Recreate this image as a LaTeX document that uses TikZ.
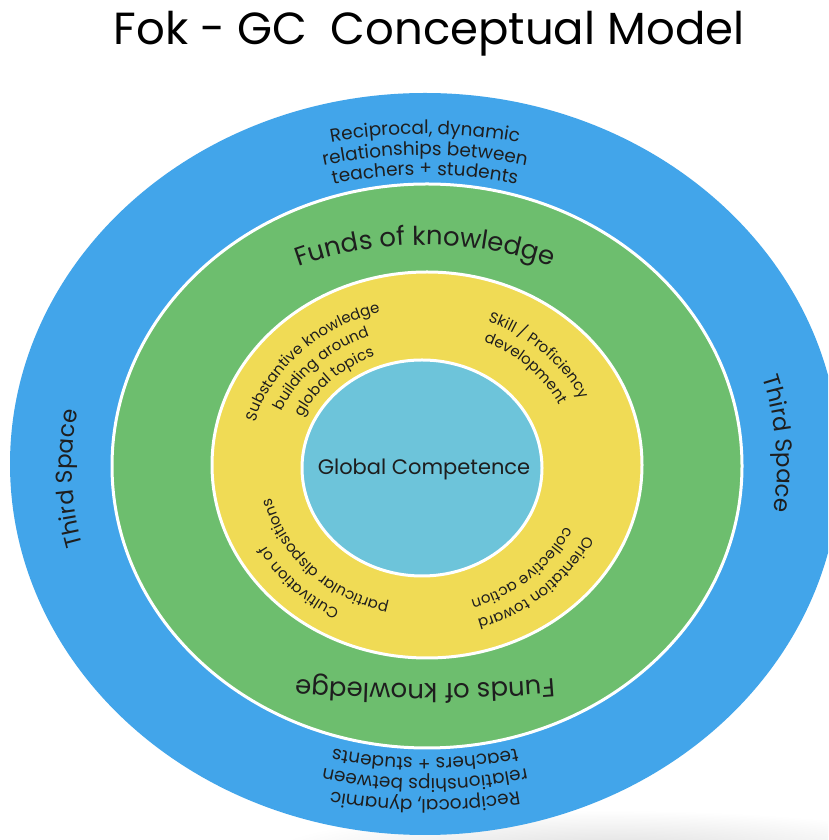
\documentclass[tikz,border=0pt]{standalone}
\usepackage{fontspec}
\setmainfont{Poppins}
\usetikzlibrary{decorations.text}
\definecolor{outerblue}{RGB}{66,165,234}
\definecolor{fokgreen}{RGB}{109,190,110}
\definecolor{gcyellow}{RGB}{240,219,85}
\definecolor{coreblue}{RGB}{109,196,218}
\definecolor{txt}{RGB}{30,30,30}
\newcommand{\curvetext}[6]{%
  \path[decorate,decoration={text along path,text align=center,text color=txt,
    text={|\fontsize{#5}{#5}\selectfont|#6}}]
    ([shift={(#3:#1 and #2)}]C) arc[start angle=#3,end angle=#4,x radius=#1,y radius=#2];}
\begin{document}
\begin{tikzpicture}[x=1pt,y=1pt,
  ring/.style={draw=white,line width=3pt}]
\useasboundingbox (0,0) rectangle (828,840);
\clip (0,0) rectangle (828,840);
\fill[white] (0,0) rectangle (828,840);
\shade[inner color=black!13,outer color=white] (610,-12) ellipse[x radius=340,y radius=42];
\coordinate (C) at (425,373);
% rings
\fill[outerblue] (425,376) ellipse[x radius=415,y radius=371];
\filldraw[ring,fill=fokgreen] (427,374) ellipse[x radius=315,y radius=282];
\filldraw[ring,fill=gcyellow] (427,375) ellipse[x radius=215,y radius=193];
\filldraw[ring,fill=coreblue] (422,372) ellipse[x radius=120,y radius=108];
% title
\node[anchor=base,text=black,font=\fontsize{45}{45}\selectfont] (title) at (429,795) {Fok - GC~ Conceptual Model};
% centre
\node[text=txt,font=\fontsize{21}{21}\selectfont] (gc) at (424,371) {Global Competence};
% outer ring, top
\curvetext{420}{333}{130}{50}{18.5}{Reciprocal, dynamic}
\curvetext{395}{312}{130}{50}{18.5}{relationships between}
\curvetext{370}{292}{130}{50}{18.5}{teachers + students}
% outer ring, bottom
\curvetext{420}{333}{-50}{-130}{18.5}{Reciprocal, dynamic}
\curvetext{395}{312}{-50}{-130}{18.5}{relationships between}
\curvetext{370}{291}{-50}{-130}{18.5}{teachers + students}
% third space
\curvetext{353}{316}{222}{142}{23}{Third Space}
\curvetext{352}{316}{44}{-36}{23}{Third Space}
% funds of knowledge
\curvetext{295}{222}{150}{30}{26}{Funds of knowledge}
\curvetext{600}{217}{-60}{-120}{26}{Funds of knowledge}
% yellow ring
\curvetext{177}{160}{182}{88}{15}{Substantive knowledge}
\curvetext{156}{140}{182}{88}{15}{building around}
\curvetext{134}{120}{182}{88}{15}{global topics}
\curvetext{173}{156}{92}{0}{15}{Skill / Proficiency}
\curvetext{151}{136}{92}{0}{15}{development}
\curvetext{181}{163}{270}{178}{15}{Cultivation of}
\curvetext{157}{141}{270}{178}{15}{particular dispositions}
\curvetext{177}{160}{-2}{-94}{15}{Orientation toward}
\curvetext{155}{139}{-2}{-94}{15}{collective action}
\end{tikzpicture}
\end{document}
